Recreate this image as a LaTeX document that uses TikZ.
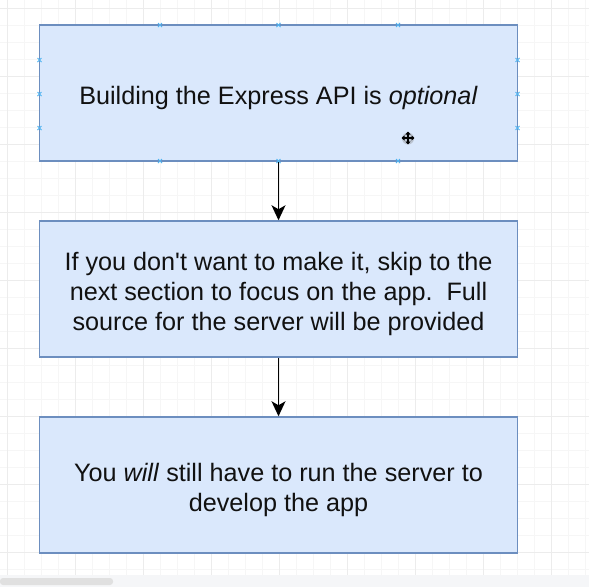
\documentclass[tikz,border=0pt]{standalone}
\usepackage{fontspec}
\setmainfont{Liberation Sans}
\usetikzlibrary{arrows.meta}
\definecolor{boxfill}{HTML}{DAE8FC}
\definecolor{boxline}{HTML}{6C8EBF}
\definecolor{gridminor}{HTML}{F6F6F6}
\definecolor{gridmajor}{HTML}{ECECEC}
\definecolor{marker}{HTML}{4FB3F0}
\definecolor{strip}{HTML}{F5F6F8}
\definecolor{thumb}{HTML}{E0E0E0}
\definecolor{txt}{HTML}{111111}
\newcommand{\lowtext}[1]{\raisebox{-5pt}[\height][\depth]{\parbox{470pt}{\centering #1}}}
\begin{document}
\begin{tikzpicture}[x=1pt,y=-1pt,
  flowbox/.style={draw=boxline, fill=boxfill, line width=1.5pt, minimum width=478pt, minimum height=136pt, text=txt, font=\fontsize{25.2}{30}\selectfont, inner sep=0pt},
  flowarrow/.style={draw=black, line width=1.3pt, -{Stealth[length=15pt,width=14pt,inset=4pt]}},
  minorline/.style={draw=gridminor, line width=1pt},
  majorline/.style={draw=gridmajor, line width=1pt},
  markx/.style={draw=marker, line width=0.9pt}]
\useasboundingbox (0,0) rectangle (589,587);
\fill[white] (0,0) rectangle (589,587);
% grid
\foreach \k in {0,...,34} { \draw[minorline] ({7+17*\k},0) -- ({7+17*\k},575); }
\foreach \k in {0,...,33} { \draw[minorline] (0,{8.5+17*\k}) -- (589,{8.5+17*\k}); }
\foreach \k in {0,...,8} { \draw[majorline] ({7+68*\k},0) -- ({7+68*\k},575); }
\foreach \k in {0,...,8} { \draw[majorline] (0,{8.5+68*\k}) -- (589,{8.5+68*\k}); }
% scroll strip
\fill[strip] (0,575) rectangle (589,587);
\fill[thumb, rounded corners=3pt] (0,578) rectangle (113,585);
% boxes
\node[flowbox] (b1) at (278.5,93) {\lowtext{Building the Express API is \textit{optional}}};
\node[flowbox] (b2) at (278.5,289) {\lowtext{If you don\textquotesingle t want to make it, skip to the\\ next section to focus on the app.\ \ Full\\ source for the server will be provided}};
\node[flowbox] (b3) at (278.5,485) {\lowtext{You \textit{will} still have to run the server to\\ develop the app}};
% arrows
\draw[flowarrow] (b1.south) -- (b2.north);
\draw[flowarrow] (b2.south) -- (b3.north);
% connection markers on first box
\foreach \px/\py in {160/25, 278.5/25, 398/25, 160/161, 278.5/161, 398/161, 39.5/60, 39.5/94, 39.5/128, 517.5/60, 517.5/94, 517.5/128} {
  \draw[markx] (\px-2,\py-2) -- (\px+2,\py+2) (\px-2,\py+2) -- (\px+2,\py-2);
}
% cursor
\fill[gray, opacity=0.35] (408,138.5) circle (6pt);
\draw[black, line width=1.4pt, {Triangle[length=3pt,width=5pt]}-{Triangle[length=3pt,width=5pt]}] (401.5,138) -- (414.5,138);
\draw[black, line width=1.4pt, {Triangle[length=3pt,width=5pt]}-{Triangle[length=3pt,width=5pt]}] (408,131.5) -- (408,144.5);
\end{tikzpicture}
\end{document}
